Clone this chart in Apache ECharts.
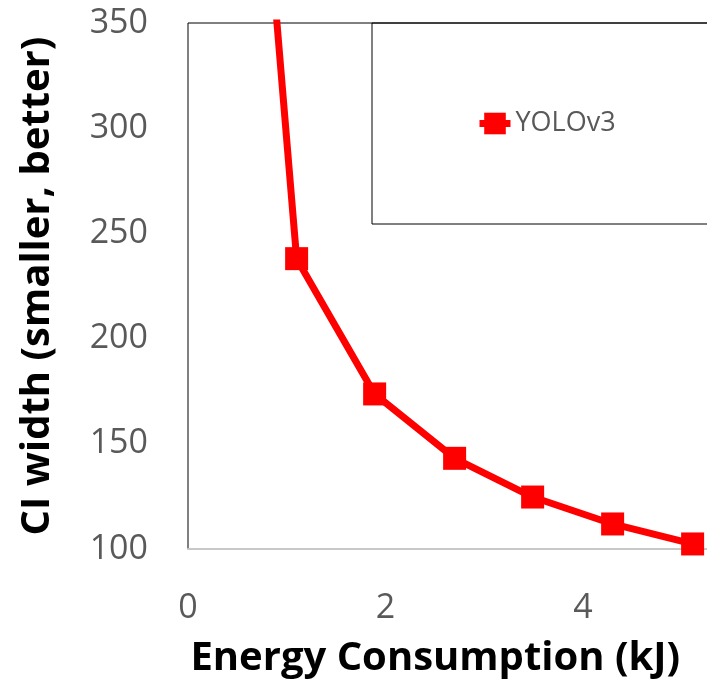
<!DOCTYPE html>
<html>
<head>
<meta charset="utf-8">
<script src="https://cdn.jsdelivr.net/npm/echarts@6/dist/echarts.min.js"></script>
<style>
  html, body { margin: 0; padding: 0; background: #fff; }
  #main { width: 707px; height: 680px; }
</style>
</head>
<body>
<div id="main"></div>
<script>
// energy (kJ) vs CI width, first point sits above the visible range
const energy = [0.3, 1.1, 1.89, 2.7, 3.49, 4.3, 5.11]
const ciWidth = [688, 238, 173.7, 143.1, 124.7, 111.9, 102.4]
const seriesName = 'YOLOv3'
const xTicks = { min: 0, max: 6, interval: 2 }
const yTicks = { min: 100, max: 350, interval: 50 }

const chart = echarts.init(document.getElementById('main'))

const font = '"Open Sans", "Noto Sans", sans-serif'

const option = {
  backgroundColor: '#fff',
  animation: false,
  legend: {
    data: [seriesName],
    left: 372,
    top: 23,
    padding: [87, 150, 87, 104],
    borderColor: '#000',
    borderWidth: 1,
    itemWidth: 31,
    itemHeight: 27,
    lineStyle: { width: 7 },
    textStyle: {
      fontFamily: font,
      fontSize: 27,
      lineHeight: 27,
      color: '#595959'
    }
  },
  grid: {
    left: 188,
    top: 23,
    width: 592.5,
    height: 526,
    outerBoundsMode: 'none',
    containLabel: false,
    show: true,
    borderColor: '#000',
    borderWidth: 1
  },
  xAxis: {
    type: 'value',
    min: xTicks.min,
    max: xTicks.max,
    interval: xTicks.interval,
    name: 'Energy Consumption (kJ)',
    nameLocation: 'middle',
    nameGap: 90,
    nameTextStyle: {
      fontFamily: font,
      fontSize: 40,
      lineHeight: 40,
      fontWeight: 'bold',
      color: '#000',
      padding: [0, 98, 0, 0]
    },
    axisLine: { show: true, lineStyle: { color: '#c8c8c8', width: 2 } },
    axisTick: { show: false },
    splitLine: { show: false },
    axisLabel: {
      margin: 42,
      fontFamily: font,
      fontSize: 34,
      lineHeight: 34,
      color: '#595959'
    }
  },
  yAxis: {
    type: 'value',
    min: yTicks.min,
    max: yTicks.max,
    interval: yTicks.interval,
    name: 'CI width (smaller, better)',
    nameLocation: 'middle',
    nameGap: 130,
    nameTextStyle: {
      fontFamily: font,
      fontSize: 40,
      lineHeight: 40,
      fontWeight: 'bold',
      color: '#000'
    },
    axisLine: { show: false },
    axisTick: { show: false },
    splitLine: { show: false },
    axisLabel: {
      margin: 40,
      fontFamily: font,
      fontSize: 34,
      lineHeight: 34,
      padding: [12, 0, 0, 0],
      color: '#595959'
    }
  },
  series: [
    {
      name: seriesName,
      type: 'line',
      data: energy.map((e, i) => [e, ciWidth[i]]),
      clip: true,
      symbol: 'rect',
      symbolSize: 23,
      itemStyle: { color: '#ff0000' },
      lineStyle: { color: '#ff0000', width: 7 }
    }
  ]
}

chart.setOption(option)
</script>
</body>
</html>
